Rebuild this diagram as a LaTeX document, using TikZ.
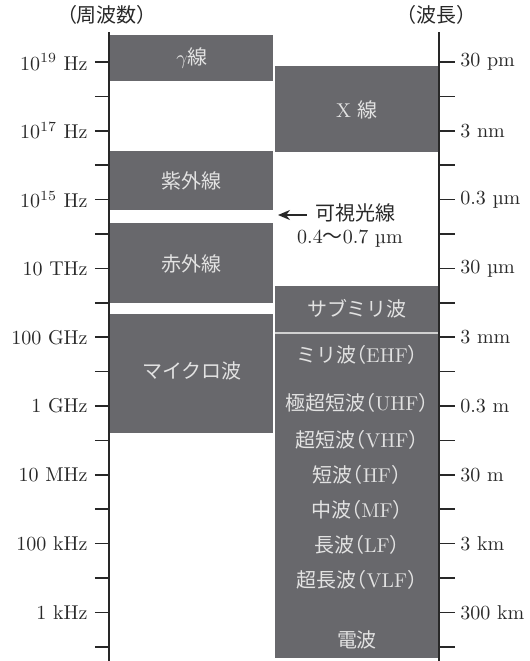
\documentclass[tikz,border=0pt]{standalone}
\usepackage{fontspec}
\newfontfamily\cjk{Noto Sans CJK JP}
\newfontfamily\cjkp[RawFeature=+halt]{Noto Sans CJK JP}
\usetikzlibrary{arrows.meta}
\definecolor{boxc}{RGB}{104,104,108}
\definecolor{txtc}{RGB}{226,226,226}
\definecolor{inkc}{RGB}{40,40,40}
\newcommand{\bandlab}[2]{{\cjk #1}{\cjkp （}#2{\cjkp ）}}
\begin{document}
\begin{tikzpicture}[x=0.5pt,y=-0.5pt,
  every node/.style={inner sep=0pt, font=\fontsize{10}{12}\selectfont},
  boxlabel/.style={text=txtc},
  axlabel/.style={text=inkc},
  axisline/.style={draw=inkc, line width=0.75pt},
  band/.style={fill=boxc}]
\useasboundingbox (0,0) rectangle (530,661);
% bands, left column (frequency)
\fill[band] (110,35) rectangle (273.5,81);
\fill[band] (110,151) rectangle (273.5,210);
\fill[band] (110,223) rectangle (273.5,303);
\fill[band] (110,314) rectangle (273.5,433);
% bands, right column
\fill[band] (275.5,66) rectangle (439,152);
\fill[band] (275.5,286) rectangle (439,658);
\draw[line width=0.7pt, black!18] (275.5,333) -- (439,333);
% axes
\draw[axisline] (109,32) -- (109,661);
\draw[axisline] (439,32) -- (439,661);
\foreach \k in {0,...,17}{
  \pgfmathsetmacro{\yy}{62+34.4*\k}
  \draw[axisline] (95,\yy) -- (109,\yy);
  \draw[axisline] (439,\yy) -- (455,\yy);
}
% headings
\node[axlabel] (hf) at (107,15) {\cjk （周波数）};
\node[axlabel] (hw) at (437,15) {\cjk （波長）};
% left labels
\foreach \k/\t in {0/{$10^{19}$ Hz},2/{$10^{17}$ Hz},4/{$10^{15}$ Hz},6/{10 THz},8/{100 GHz},10/{1 GHz},12/{10 MHz},14/{100 kHz},16/{1 kHz}}{
  \pgfmathsetmacro{\yy}{62+34.4*\k}
  \node[axlabel, anchor=east] (fl\k) at (88,\yy) {\t};
}
% right labels
\foreach \k/\t in {0/{30 pm},2/{3 nm},4/{0.3 µm},6/{30 µm},8/{3 mm},10/{0.3 m},12/{30 m},14/{3 km},16/{300 km}}{
  \pgfmathsetmacro{\yy}{62+34.4*\k}
  \node[axlabel, anchor=west] (wl\k) at (460,\yy) {\t};
}
% band labels
\node[boxlabel] (gam) at (192,58) {$\gamma${\cjk 線}};
\node[boxlabel] (xr) at (357,110) {X {\cjk 線}};
\node[boxlabel] (uv) at (192,181) {\cjk 紫外線};
\node[boxlabel] (ir) at (192,264) {\cjk 赤外線};
\node[boxlabel] (mw) at (192,371) {\cjk マイクロ波};
\node[boxlabel] (smm) at (357,309) {\cjk サブミリ波};
\node[boxlabel] (ehf) at (357,355) {\bandlab{ミリ波}{EHF}};
\node[boxlabel] (uhf) at (357,403) {\bandlab{極超短波}{UHF}};
\node[boxlabel] (vhf) at (357,440) {\bandlab{超短波}{VHF}};
\node[boxlabel] (hfw) at (357,475) {\bandlab{短波}{HF}};
\node[boxlabel] (mfw) at (357,510) {\bandlab{中波}{MF}};
\node[boxlabel] (lfw) at (357,545) {\bandlab{長波}{LF}};
\node[boxlabel] (vlf) at (357,580) {\bandlab{超長波}{VLF}};
\node[boxlabel] (radio) at (357,640) {\cjk 電波};
% visible light
\node[axlabel, anchor=west] (vis) at (315,213) {\cjk 可視光線};
\node[axlabel] (visr) at (350,239) {0.4{\cjk 〜}0.7 µm};
\coordinate (vistip) at (278,215);
\draw[line width=1.1pt, inkc, -{Stealth[length=6pt,width=5pt]}] (vis.west) ++(-8,2) -- (vistip);
\end{tikzpicture}
\end{document}
